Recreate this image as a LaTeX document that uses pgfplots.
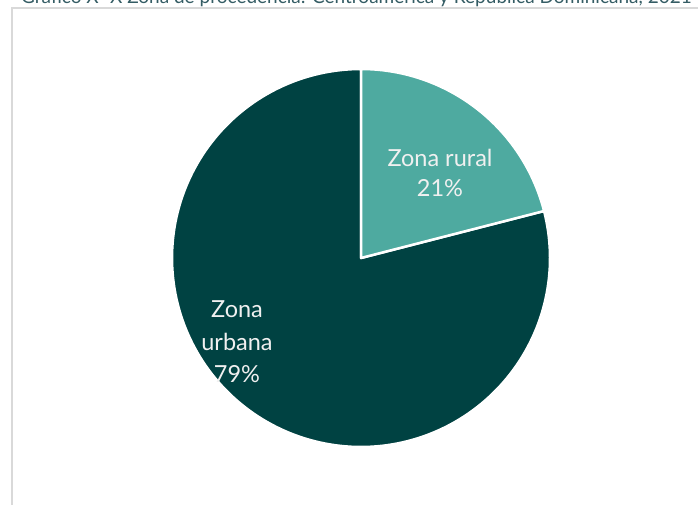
\documentclass[border=0pt]{standalone}
\usepackage{pgfplots}
\pgfplotsset{compat=1.18}
\usepackage{fontspec}
\setmainfont{Lato}
\definecolor{rural}{RGB}{78,170,160}
\definecolor{urbana}{RGB}{0,66,66}
\definecolor{titlec}{RGB}{52,92,100}
\definecolor{framec}{RGB}{217,217,217}
% data (percent)
\def\ruralval{21}
\def\urbanaval{79}
\begin{document}
\begin{tikzpicture}[x=1pt,y=1pt]
\useasboundingbox (0,0) rectangle (698,504);
\clip (0,0) rectangle (698,504);
\draw[framec, line width=2pt] (12,-20) -- (12,496) -- (720,496);
\node[anchor=base west, text=titlec, inner sep=0pt, font=\fontsize{19}{21}\selectfont] at (21,500)
  {Gráfico X- X Zona de procedencia: Centroamérica y República Dominicana, 2021};
\begin{axis}[x=1pt, y=1pt, at={(0,0)}, anchor=origin, hide axis, clip=false,
  xmin=0, xmax=698, ymin=0, ymax=504, scale only axis]
\pgfmathsetmacro{\split}{90-3.6*\ruralval}
\pgfmathsetmacro{\start}{\split-3.6*\urbanaval}
\addplot[fill=urbana, draw=white, line width=2.5pt, line join=round, domain=\start:\split, samples=181, variable=\t]
  ({361+189*cos(t)},{246+189*sin(t)}) -- (axis cs:361,246) -- cycle;
\addplot[fill=rural, draw=white, line width=2.5pt, line join=round, domain=\split:90, samples=61, variable=\t]
  ({361+189*cos(t)},{246+189*sin(t)}) -- (axis cs:361,246) -- cycle;
\node[align=center, text=white!94!black, font=\fontsize{23.5}{30}\selectfont] at (axis cs:440,331) {Zona rural\\21\%};
\node[align=center, text=white!94!black, font=\fontsize{23.5}{32.5}\selectfont] at (axis cs:237,162) {Zona\\urbana\\79\%};
\end{axis}
\end{tikzpicture}
\end{document}
